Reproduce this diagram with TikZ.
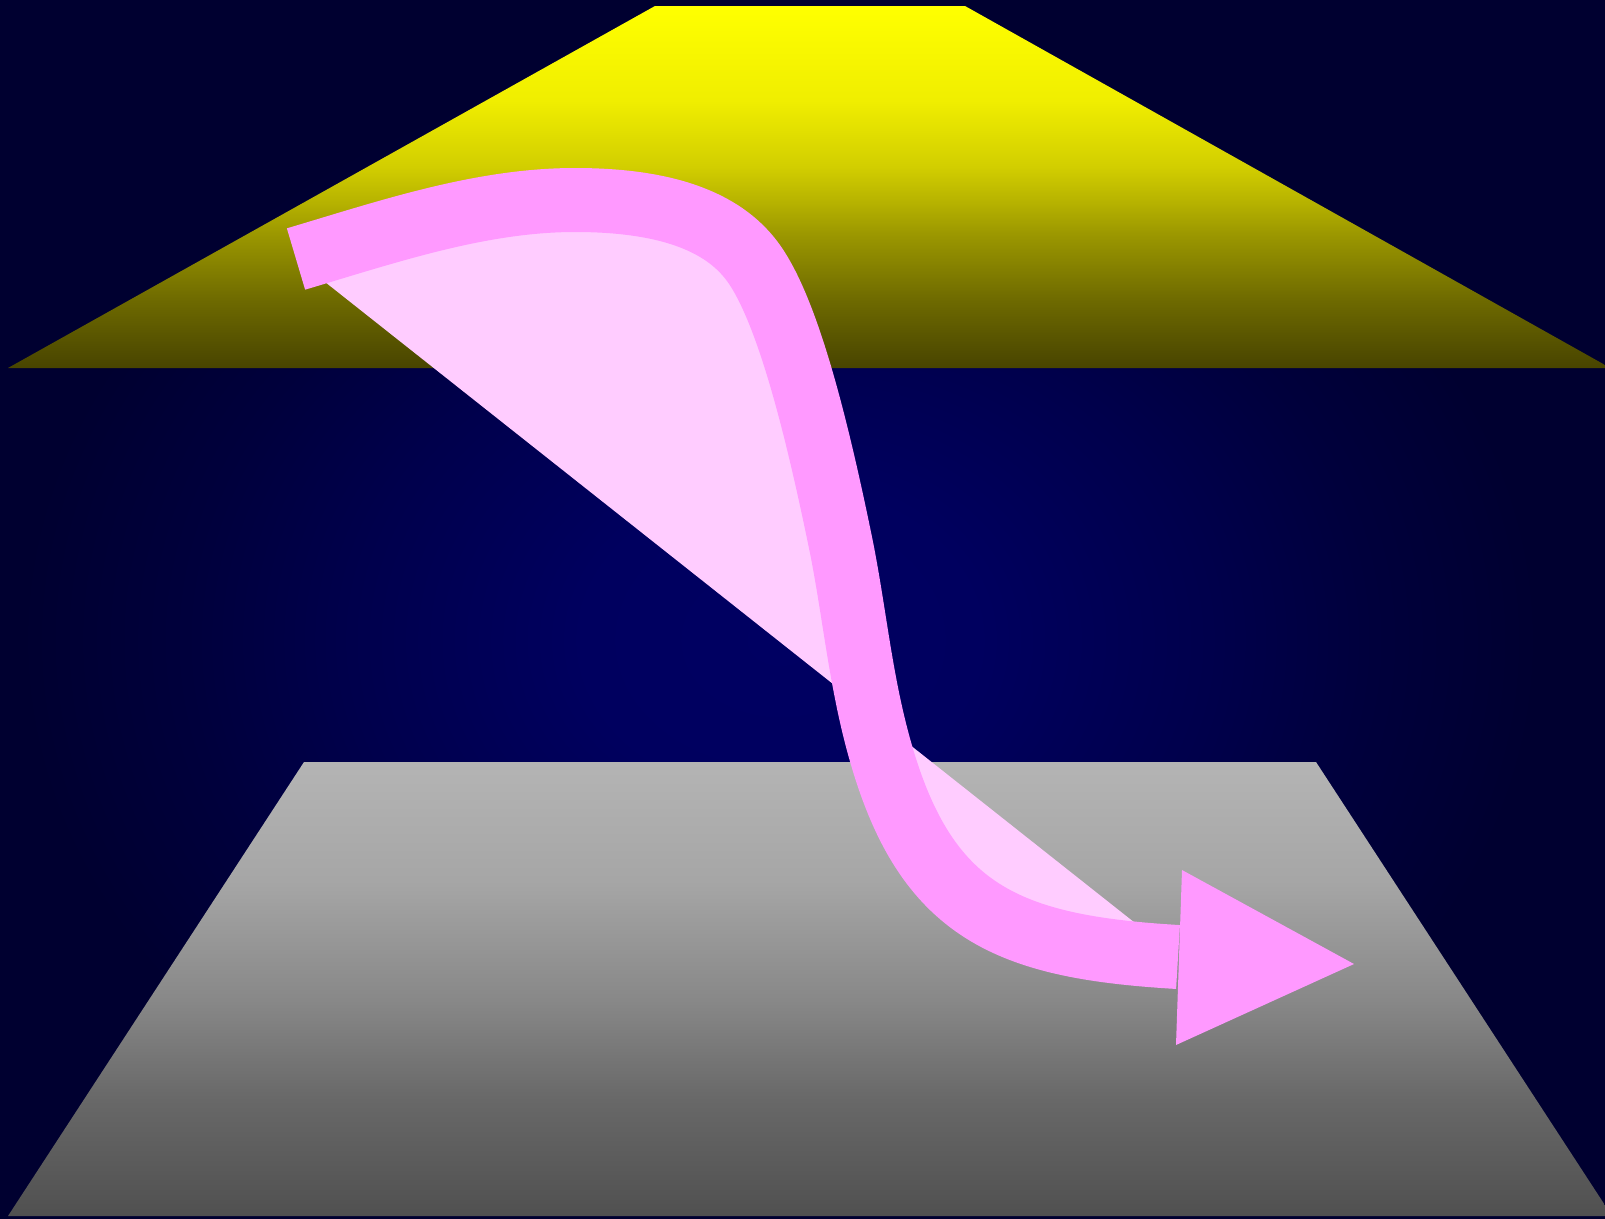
\documentclass[tikz,border=0pt]{standalone}
\usetikzlibrary{calc}
\definecolor{bg0}{RGB}{0,0,98}
\definecolor{bg1}{RGB}{0,0,95}
\definecolor{bg2}{RGB}{0,0,76}
\definecolor{bg3}{RGB}{0,0,60}
\definecolor{bgout}{RGB}{0,0,48}
\definecolor{yl0}{RGB}{255,255,0}
\definecolor{yl1}{RGB}{240,238,0}
\definecolor{yl2}{RGB}{210,206,0}
\definecolor{yl3}{RGB}{184,180,0}
\definecolor{yl4}{RGB}{156,152,0}
\definecolor{yl5}{RGB}{110,106,0}
\definecolor{yl6}{RGB}{82,78,0}
\definecolor{yl7}{RGB}{72,68,0}
\definecolor{gr0}{RGB}{180,180,180}
\definecolor{gr1}{RGB}{166,166,166}
\definecolor{gr2}{RGB}{136,136,136}
\definecolor{gr3}{RGB}{104,104,104}
\definecolor{gr4}{RGB}{80,80,80}
\definecolor{pinkline}{RGB}{255,153,255}
\definecolor{pinkfill}{RGB}{255,204,255}
\pgfdeclareradialshading{bgshade}{\pgfpoint{0bp}{0bp}}{color(0bp)=(bg0); color(6bp)=(bg1); color(13bp)=(bg2); color(18bp)=(bg3); color(23bp)=(bgout); color(50bp)=(bgout)}
\pgfdeclareverticalshading{yellowshade}{100bp}{color(0bp)=(yl7); color(25bp)=(yl7); color(27.5bp)=(yl6); color(34.4bp)=(yl5); color(43.6bp)=(yl4); color(48.2bp)=(yl3); color(52.8bp)=(yl2); color(62bp)=(yl1); color(75bp)=(yl0); color(100bp)=(yl0)}
\pgfdeclareverticalshading{grayshade}{100bp}{color(0bp)=(gr4); color(25bp)=(gr4); color(37.8bp)=(gr3); color(48.8bp)=(gr2); color(62bp)=(gr1); color(75bp)=(gr0); color(100bp)=(gr0)}
\tikzset{
  bgarea/.style={shading=bgshade},
  lightarea/.style={shading=yellowshade},
  floorarea/.style={shading=grayshade},
  bigstroke/.style={line width=64pt, draw=pinkline, fill=pinkfill},
  headtri/.style={fill=pinkline}
}
\begin{document}
\begin{tikzpicture}[x=1pt,y=-1pt]
\useasboundingbox (0,0) rectangle (1605,1218);
\path[bgarea] (-45,0) rectangle (1605,1280);
% yellow trapezoid
\path[lightarea] (655,6) -- (965,6) -- (1605,365) -- (1605,368) -- (8,368) -- cycle;
% gray trapezoid
\path[floorarea] (304,762) -- (1316,762) -- (1612,1216) -- (8,1216) -- cycle;
% pink curve with fill
\coordinate (p0) at (296,259);
\coordinate (p1) at (575,200);
\coordinate (pk) at (752,261);
\coordinate (p4) at (842,550);
\coordinate (p5) at (880,750);
\coordinate (p7) at (1178,957);
\path[bigstroke] (p0) .. controls (387,232) and (480,200) .. (p1)
  .. controls (665,200) and (722,221) .. (pk)
  .. controls (788,309) and (818,432) .. (p4)
  .. controls (855,617) and (861,683) .. (p5)
  .. controls (926,913) and (1008,947) .. (p7);
% arrow head
\coordinate (h1) at (1182,870);
\coordinate (h2) at (1354,964);
\coordinate (h3) at (1176,1045);
\path[headtri] (h1) -- (h2) -- (h3) -- cycle;
\end{tikzpicture}
\end{document}
